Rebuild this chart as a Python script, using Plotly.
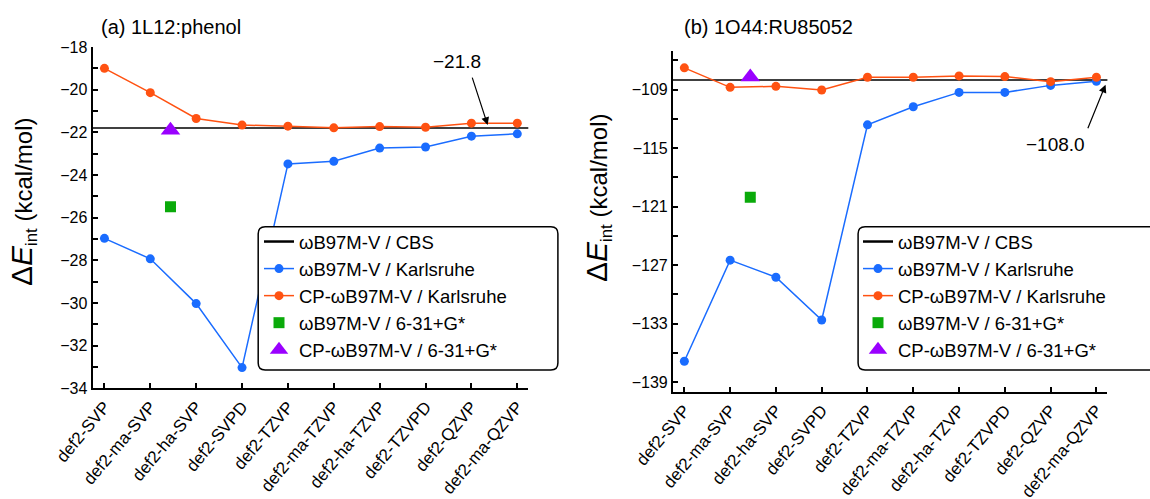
import plotly.graph_objects as go

# ---------------- data ----------------
basis_sets = ["def2-SVP", "def2-ma-SVP", "def2-ha-SVP", "def2-SVPD", "def2-TZVP",
              "def2-ma-TZVP", "def2-ha-TZVP", "def2-TZVPD", "def2-QZVP", "def2-ma-QZVP"]
basis_idx = list(range(len(basis_sets)))

# panel (a) 1L12:phenol
a_karlsruhe = [-26.97, -27.93, -30.03, -33.03, -23.48, -23.36, -22.74, -22.69, -22.18, -22.07]
a_cp_karlsruhe = [-19.0, -20.14, -21.35, -21.66, -21.71, -21.79, -21.73, -21.76, -21.57, -21.57]
a_cbs = -21.8
a_pople = [-25.49]
a_cp_pople = [-21.9]
a_title = "(a) 1L12:phenol"

# panel (b) 1O44:RU85052
b_karlsruhe = [-136.88, -126.5, -128.25, -132.64, -112.61, -110.75, -109.28, -109.28, -108.56, -108.14]
b_cp_karlsruhe = [-106.76, -108.76, -108.66, -109.03, -107.73, -107.73, -107.59, -107.66, -108.18, -107.73]
b_cbs = -108.0
b_pople = [-120.04]
b_cp_pople = [-107.7]
b_title = "(b) 1O44:RU85052"

pople_x = [1.44]

a_yticks = [-34, -32, -30, -28, -26, -24, -22, -20, -18]
b_yticks = [-139, -133, -127, -121, -115, -109]

names = ["ωB97M-V / CBS", "ωB97M-V / Karlsruhe", "CP-ωB97M-V / Karlsruhe",
         "ωB97M-V / 6-31+G*", "CP-ωB97M-V / 6-31+G*"]

# ---------------- style ----------------
W, H = 1150, 499
FONT = "Liberation Sans, Arial, Helvetica, sans-serif"
BLUE = "#1a6cff"
ORANGE = "#ff5212"
GREEN = "#0aaa0a"
PURPLE = "#9a00ff"


def px_x(p):
    return p / W


def px_y(p):
    return 1 - p / H


fig = go.Figure()


def add_panel(xa, ya, leg, karl, cp, cbs, pople, cp_pople):
    fig.add_trace(go.Scatter(x=[None], y=[None], mode="lines", name=names[0],
                             line=dict(color="black", width=2.5),
                             xaxis=xa, yaxis=ya, legend=leg))
    fig.add_trace(go.Scatter(x=basis_idx, y=karl, mode="lines+markers", name=names[1],
                             line=dict(color=BLUE, width=1.5),
                             marker=dict(color=BLUE, size=9, symbol="circle"),
                             xaxis=xa, yaxis=ya, legend=leg))
    fig.add_trace(go.Scatter(x=basis_idx, y=cp, mode="lines+markers", name=names[2],
                             line=dict(color=ORANGE, width=1.5),
                             marker=dict(color=ORANGE, size=9, symbol="circle"),
                             xaxis=xa, yaxis=ya, legend=leg))
    fig.add_trace(go.Scatter(x=pople_x, y=pople, mode="markers", name=names[3],
                             marker=dict(color=GREEN, size=11, symbol="square"),
                             xaxis=xa, yaxis=ya, legend=leg))
    fig.add_trace(go.Scatter(x=pople_x, y=cp_pople, mode="markers", name=names[4],
                             marker=dict(color=PURPLE, size=17, symbol="triangle-up"),
                             xaxis=xa, yaxis=ya, legend=leg))
    dom = "x domain" if xa == "x" else xa + " domain"
    fig.add_shape(type="line", xref=dom, x0=0, x1=1, yref=ya, y0=cbs, y1=cbs,
                  line=dict(color="black", width=1.5), layer="below")


add_panel("x", "y", "legend", a_karlsruhe, a_cp_karlsruhe, a_cbs, a_pople, a_cp_pople)
add_panel("x2", "y2", "legend2", b_karlsruhe, b_cp_karlsruhe, b_cbs, b_pople, b_cp_pople)


def rounded_rect(x0, y0, x1, y1, r):
    X = lambda v: f"{px_x(v):.5f}"
    Y = lambda v: f"{px_y(v):.5f}"
    return (f"M {X(x0 + r)} {Y(y0)} L {X(x1 - r)} {Y(y0)} Q {X(x1)} {Y(y0)} {X(x1)} {Y(y0 + r)} "
            f"L {X(x1)} {Y(y1 - r)} Q {X(x1)} {Y(y1)} {X(x1 - r)} {Y(y1)} "
            f"L {X(x0 + r)} {Y(y1)} Q {X(x0)} {Y(y1)} {X(x0)} {Y(y1 - r)} "
            f"L {X(x0)} {Y(y0 + r)} Q {X(x0)} {Y(y0)} {X(x0 + r)} {Y(y0)} Z")


for bx0, bx1 in [(258.2, 557.9), (858.1, 1158.0)]:
    fig.add_shape(type="path", xref="paper", yref="paper",
                  path=rounded_rect(bx0, 226.7, bx1, 370.0, 7),
                  fillcolor="white", line=dict(color="black", width=1.5), layer="above")

axis_common = dict(showline=True, linecolor="black", linewidth=2, mirror=False,
                   ticks="inside", ticklen=5, tickwidth=2, tickcolor="black",
                   showgrid=False, zeroline=False, automargin=False)

xaxis_common = dict(axis_common, tickmode="array", tickvals=basis_idx, ticktext=basis_sets,
                    tickangle=-50, tickfont=dict(family=FONT, size=17, color="black"))
yaxis_common = dict(axis_common, tickfont=dict(family=FONT, size=16, color="black"))

LEG_FONT = 18.5
fig.update_layout(
    template="none",
    width=W, height=H, autosize=False,
    margin=dict(l=0, r=0, t=0, b=0, pad=0),
    paper_bgcolor="white", plot_bgcolor="white",
    font=dict(family=FONT, color="black"),
    xaxis=dict(xaxis_common, domain=[px_x(92.5), px_x(528.3)], range=[-0.26, 9.24], anchor="y"),
    yaxis=dict(yaxis_common, domain=[px_y(388.3), px_y(47)], range=[-34, -18],
               tickmode="array", tickvals=a_yticks,
               minor=dict(dtick=1, tick0=-34, ticks="inside", ticklen=5, tickwidth=2,
                          tickcolor="black", showgrid=False),
               anchor="x"),
    xaxis2=dict(xaxis_common, domain=[px_x(672.9), px_x(1107.4)], range=[-0.25, 9.24], anchor="y2"),
    yaxis2=dict(yaxis_common, domain=[px_y(391.7), px_y(50.7)], range=[-140, -105],
                tickmode="array", tickvals=b_yticks,
                minor=dict(dtick=3, tick0=-139, ticks="inside", ticklen=5, tickwidth=2,
                           tickcolor="black", showgrid=False),
                anchor="x2"),
    legend=dict(x=px_x(259), xanchor="left", y=px_y(223), yanchor="top",
                bgcolor="rgba(0,0,0,0)", borderwidth=0, tracegroupgap=0,
                font=dict(family=FONT, size=LEG_FONT, color="black")),
    legend2=dict(x=px_x(858), xanchor="left", y=px_y(223), yanchor="top",
                 bgcolor="rgba(0,0,0,0)", borderwidth=0, tracegroupgap=0,
                 font=dict(family=FONT, size=LEG_FONT, color="black")),
)

ytitle = "<span style='font-size:30px'>Δ<i>E</i></span><sub>int</sub> (kcal/mol)"

annotations = [
    dict(text=a_title, xref="paper", yref="paper", x=px_x(99), y=px_y(27),
         xanchor="left", yanchor="middle", showarrow=False, font=dict(size=20)),
    dict(text=b_title, xref="paper", yref="paper", x=px_x(682), y=px_y(27),
         xanchor="left", yanchor="middle", showarrow=False, font=dict(size=20)),
    dict(text=ytitle, xref="paper", yref="paper", x=px_x(23), y=px_y(202),
         xanchor="center", yanchor="middle", textangle=-90, showarrow=False,
         font=dict(size=24)),
    dict(text=ytitle, xref="paper", yref="paper", x=px_x(598), y=px_y(198),
         xanchor="center", yanchor="middle", textangle=-90, showarrow=False,
         font=dict(size=24)),
    # value labels
    dict(text=f"−{abs(a_cbs):.1f}", xref="x", yref="y", x=7.685, y=-18.70,
         xanchor="center", yanchor="middle", showarrow=False, font=dict(size=19)),
    dict(text=f"−{abs(b_cbs):.1f}", xref="x2", yref="y2", x=8.104, y=-114.66,
         xanchor="center", yanchor="middle", showarrow=False, font=dict(size=19)),
    # arrows
    dict(text="", xref="x", yref="y", x=8.354, y=-21.66, ax=-15.9, ay=-49,
         showarrow=True, arrowhead=2, arrowsize=1.3, arrowwidth=1.2, arrowcolor="black"),
    dict(text="", xref="x2", yref="y2", x=9.2, y=-108.49, ax=-18.3, ay=45,
         showarrow=True, arrowhead=2, arrowsize=1.3, arrowwidth=1.2, arrowcolor="black"),
]
for a in annotations:
    a.setdefault("font", {})
    a["font"] = dict(family=FONT, color="black", **a["font"])
fig.update_layout(annotations=annotations)

fig.write_html("out.html")
